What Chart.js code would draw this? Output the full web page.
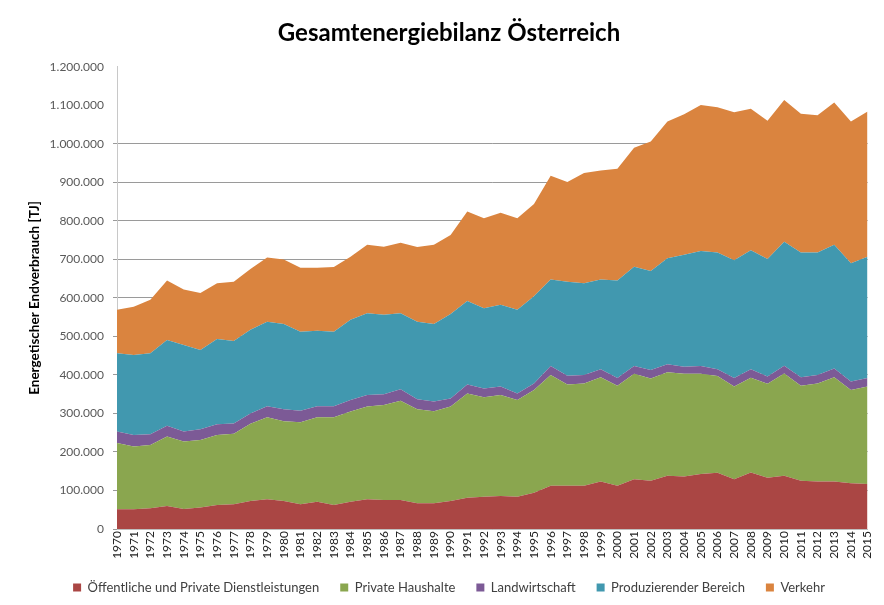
<!DOCTYPE html>
<html>
<head>
<meta charset="utf-8">
<script src="https://cdn.jsdelivr.net/npm/chart.js@4/dist/chart.umd.min.js"></script>
<style>
	body { margin: 0; background: #fff; }
	#wrap { position: relative; width: 884px; height: 605px; }
</style>
</head>
<body>
<div id="wrap"><canvas id="myChart" width="884" height="605"></canvas></div>
<script>
const years = [];
for (let y = 1970; y <= 2015; y++) years.push(String(y));

// values in TJ (thousands)
const dienstleistungen = [51, 51, 54, 60, 52, 56, 62, 64, 73, 77, 73, 64, 71, 62, 71, 77, 75, 75, 67, 67, 73, 81, 84, 86, 84, 94, 112, 112, 112, 123, 112, 129, 125, 138, 136, 143, 146, 129, 147, 133, 138, 125, 123, 123, 119, 117];
const haushalte = [172, 163, 164, 180, 175, 175, 182, 183, 200, 213, 207, 213, 219, 228, 234, 241, 247, 258, 244, 239, 245, 271, 258, 262, 251, 267, 288, 263, 266, 271, 260, 274, 266, 269, 267, 260, 251, 241, 246, 244, 266, 247, 255, 271, 242, 253];
const landwirtschaft = [30, 30, 28, 28, 26, 28, 28, 27, 27, 29, 31, 30, 29, 29, 30, 30, 28, 30, 26, 25, 21, 23, 23, 22, 17, 17, 23, 23, 22, 21, 20, 20, 22, 21, 18, 20, 18, 22, 22, 19, 20, 22, 22, 23, 22, 22];
const produzierend = [203, 208, 210, 223, 225, 206, 221, 214, 217, 219, 221, 205, 196, 193, 208, 212, 206, 197, 201, 201, 219, 217, 208, 212, 217, 226, 225, 244, 238, 233, 253, 258, 257, 275, 291, 299, 303, 306, 309, 305, 322, 324, 318, 321, 307, 315];
const verkehr = [113, 125, 139, 154, 144, 148, 145, 154, 158, 167, 168, 166, 163, 168, 164, 178, 177, 183, 194, 206, 205, 232, 234, 239, 238, 240, 269, 259, 286, 283, 290, 309, 336, 355, 365, 379, 377, 384, 367, 359, 368, 360, 356, 369, 368, 377];

const seriesNames = ["Öffentliche und Private Dienstleistungen", "Private Haushalte", "Landwirtschaft", "Produzierender Bereich", "Verkehr"];
const seriesColors = ["#AA4644", "#8AA64F", "#7C5A96", "#4198AF", "#DA843F"];
const seriesData = [dienstleistungen, haushalte, landwirtschaft, produzierend, verkehr];

const yMax = 1200000;
const yStep = 100000;
const gridTop = 1000000; // no gridlines above this in the original

function formatDE(v) {
	return String(v).replace(/\B(?=(\d{3})+(?!\d))/g, ".");
}

const datasets = seriesData.map((arr, i) => ({
	label: seriesNames[i],
	data: arr.map((v) => v * 1000),
	backgroundColor: seriesColors[i],
	borderColor: seriesColors[i],
	borderWidth: 0,
	pointRadius: 0,
	pointHoverRadius: 0,
	tension: 0,
	fill: i === 0 ? "origin" : "-1",
}));

const ctx = document.getElementById("myChart");
const myChart = new Chart(ctx, {
	type: "line",
	data: { labels: years, datasets: datasets },
	options: {
		responsive: false,
		animation: false,
		layout: { padding: { left: 22, right: 8, top: 0, bottom: 1 } },
		plugins: {
			title: {
				display: true,
				text: "Gesamtenergiebilanz Österreich",
				color: "#000",
				font: { family: "Lato", size: 24, weight: "bold" },
				padding: { top: 19, bottom: 19 },
			},
			legend: {
				position: "bottom",
				labels: {
					color: "#404040",
					font: { family: "Lato", size: 13 },
					boxWidth: 8,
					boxHeight: 8,
					padding: 21,
				},
			},
			tooltip: { enabled: false },
		},
		scales: {
			x: {
				offset: false,
				grid: { display: false, drawTicks: false },
				border: { display: true, color: "#bfbfbf" },
				ticks: {
					autoSkip: false,
					maxRotation: 90,
					minRotation: 90,
					color: "#222",
					padding: 2,
					font: { family: "Lato", size: 12 },
				},
				afterFit: (scale) => {
					scale.height = 31;
				},
			},
			y: {
				stacked: true,
				min: 0,
				max: yMax,
				border: { display: true, color: "#c8c8c8" },
				grid: {
					color: (c) => (c.tick && c.tick.value > gridTop ? "rgba(0,0,0,0)" : "#9a9a9a"),
					tickLength: 4,
				},
				ticks: {
					stepSize: yStep,
					color: "#595959",
					padding: 9,
					font: { family: "Lato", size: 12 },
					callback: (v) => formatDE(v),
				},
				title: {
					display: true,
					text: "Energetischer Endverbrauch [TJ]",
					color: "#000",
					font: { family: "Lato", size: 13.5, weight: "bold" },
					padding: { top: 5, bottom: 0 },
				},
				afterFit: (scale) => {
					scale.width = 117 - 22;
				},
			},
		},
	},
});
</script>
</body>
</html>
